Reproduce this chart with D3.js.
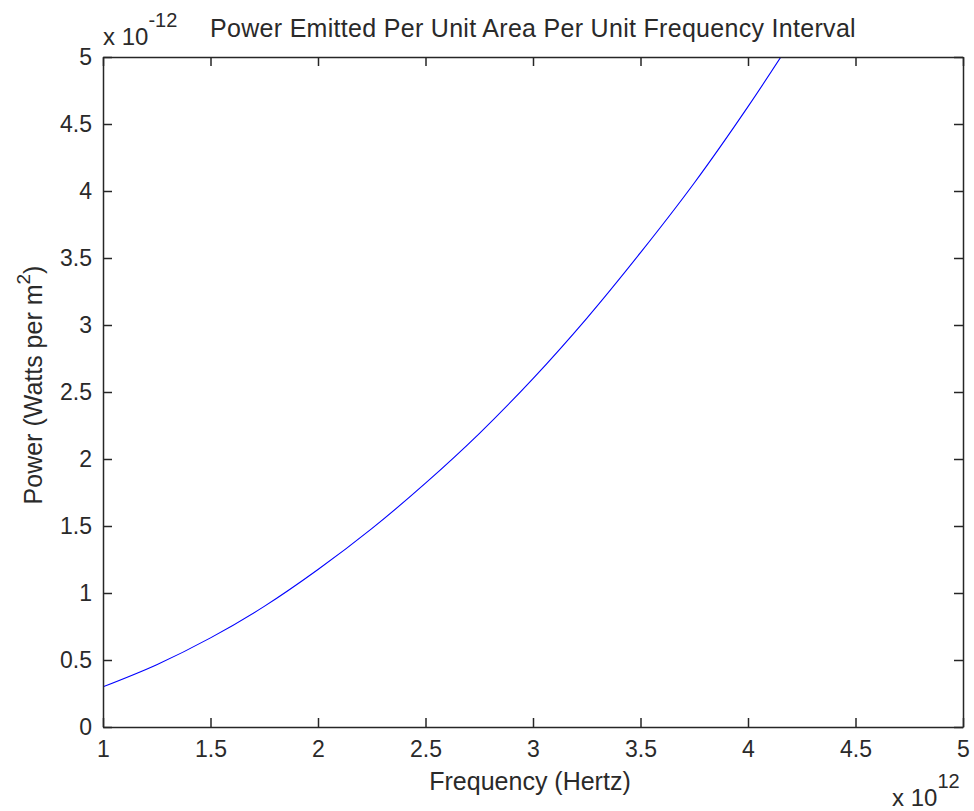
<!DOCTYPE html>
<html>
<head>
<meta charset="utf-8">
<script src="https://cdn.jsdelivr.net/npm/d3@7"></script>
<style>
  html, body { margin: 0; padding: 0; background: #fff; }
  svg { display: block; font-family: "Liberation Sans", Arial, sans-serif; }
</style>
</head>
<body>
<svg id="chart" width="974" height="811"></svg>
<script>
// Frequency in units of 1e12 Hz
const frequency = [1.0, 1.25, 1.5, 1.75, 2.0, 2.25, 2.5, 2.75, 3.0, 3.25, 3.5, 3.75, 4.0, 4.25];
// Power in units of 1e-12 W per m^2
const power = [0.30, 0.465, 0.665, 0.90, 1.175, 1.48, 1.82, 2.19, 2.60, 3.05, 3.54, 4.06, 4.63, 5.24];
const xTicks = [1, 1.5, 2, 2.5, 3, 3.5, 4, 4.5, 5];
const yTicks = [0, 0.5, 1, 1.5, 2, 2.5, 3, 3.5, 4, 4.5, 5];
const titleText = "Power Emitted Per Unit Area Per Unit Frequency Interval";
const xLabelText = "Frequency (Hertz)";

const svg = d3.select("#chart");
const m = { left: 103, right: 963, top: 57, bottom: 727 };

const x = d3.scaleLinear().domain([1, 5]).range([m.left, m.right]);
const y = d3.scaleLinear().domain([0, 5]).range([m.bottom, m.top]);

const axisColor = "#262626";
const textColor = "#2a2a2a";
const tickFont = 23;
const labelFont = 25;
const tickLen = 9;

svg.append("defs").append("clipPath").attr("id", "clip")
  .append("rect").attr("x", m.left).attr("y", m.top)
  .attr("width", m.right - m.left).attr("height", m.bottom - m.top);

// Curve
const data = frequency.map((f, i) => ({ f, p: power[i] }));
svg.append("path")
  .datum(data)
  .attr("clip-path", "url(#clip)")
  .attr("fill", "none")
  .attr("stroke", "#0000ff")
  .attr("stroke-width", 1.1)
  .attr("d", d3.line().x(d => x(d.f)).y(d => y(d.p)).curve(d3.curveCatmullRom));

function styleAxis(g) {
  g.select(".domain").attr("stroke", axisColor).attr("stroke-width", 1.5);
  g.selectAll(".tick line").attr("stroke", axisColor).attr("stroke-width", 1.5);
  g.selectAll(".tick text").attr("fill", textColor).style("font-size", tickFont + "px")
    .style("font-family", "'Liberation Sans', Arial, sans-serif");
}

// Bottom axis (ticks inward)
const xAxis = d3.axisBottom(x).tickValues(xTicks).tickFormat(d3.format("~g"))
  .tickSizeInner(-tickLen).tickSizeOuter(0);
svg.append("g").attr("transform", `translate(0,${m.bottom})`).call(xAxis).call(styleAxis)
  .selectAll(".tick text").attr("dy", null).attr("y", 30);

// Top axis
const xAxisTop = d3.axisTop(x).tickValues(xTicks).tickFormat("")
  .tickSizeInner(-tickLen).tickSizeOuter(0);
svg.append("g").attr("transform", `translate(0,${m.top})`).call(xAxisTop).call(styleAxis);

// Left axis
const yAxis = d3.axisLeft(y).tickValues(yTicks).tickFormat(d3.format("~g"))
  .tickSizeInner(-tickLen).tickSizeOuter(0);
const gy = svg.append("g").attr("transform", `translate(${m.left},0)`).call(yAxis).call(styleAxis);
gy.selectAll(".tick text").attr("x", -11);

// Right axis
const yAxisRight = d3.axisRight(y).tickValues(yTicks).tickFormat("")
  .tickSizeInner(-tickLen).tickSizeOuter(0);
svg.append("g").attr("transform", `translate(${m.right},0)`).call(yAxisRight).call(styleAxis);

// Title
svg.append("text")
  .attr("x", 533).attr("y", 37)
  .attr("text-anchor", "middle")
  .attr("fill", textColor)
  .style("font-size", labelFont + "px")
  .style("letter-spacing", "0.3px")
  .text(titleText);

// X label
svg.append("text")
  .attr("x", 530).attr("y", 790)
  .attr("text-anchor", "middle")
  .attr("fill", textColor)
  .style("font-size", labelFont + "px")
  .text(xLabelText);

// Y label with superscript
const yl = svg.append("text")
  .attr("transform", `translate(42,385) rotate(-90)`)
  .attr("text-anchor", "middle")
  .attr("fill", textColor)
  .style("font-size", labelFont + "px");
yl.append("tspan").text("Power (Watts per m");
yl.append("tspan").attr("dy", -12).style("font-size", "19px").text("2");
yl.append("tspan").attr("dy", 12).text(")");

// Exponent labels
const ey = svg.append("text").attr("x", 103).attr("y", 45).attr("fill", textColor)
  .style("font-size", "24px");
ey.append("tspan").text("x 10");
ey.append("tspan").attr("dy", -18).style("font-size", "20px").text("-12");

const ex = svg.append("text").attr("x", 892).attr("y", 806).attr("fill", textColor)
  .style("font-size", "24px");
ex.append("tspan").text("x 10");
ex.append("tspan").attr("dy", -18).style("font-size", "20px").text("12");
</script>
</body>
</html>
